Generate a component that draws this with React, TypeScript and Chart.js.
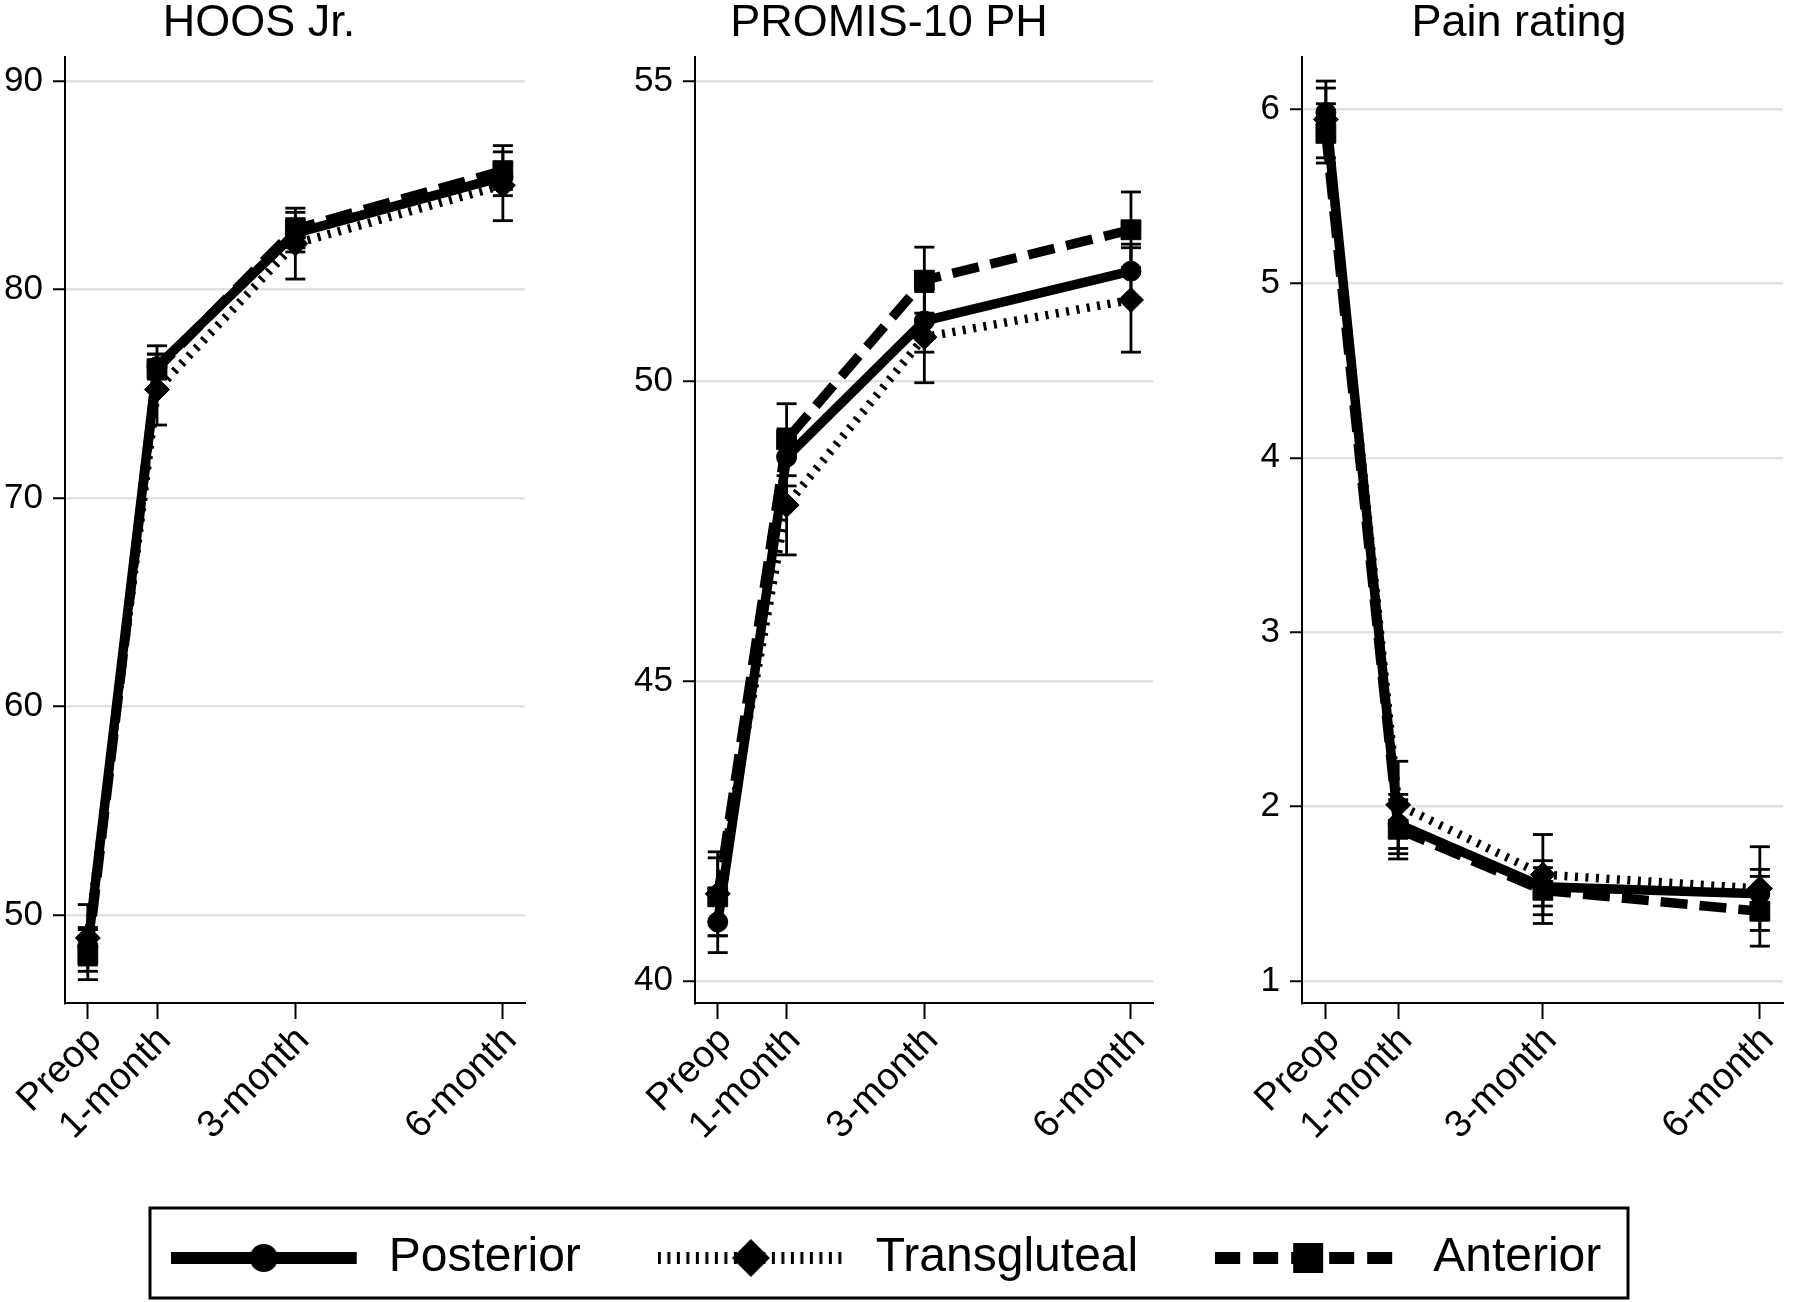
import React, { useEffect, useRef } from 'react';
import { Chart, registerables } from 'chart.js';

Chart.register(...registerables);

const FONT = 'Arial, "Liberation Sans", Helvetica, sans-serif';

// ---------- categories / labels ----------
const xTickValues = [0, 1, 3, 6];
const xTickLabels = ['Preop', '1-month', '3-month', '6-month'];
const seriesNames = ['Posterior', 'Transgluteal', 'Anterior'];
const panelTitles = ['HOOS Jr.', 'PROMIS-10 PH', 'Pain rating'];

// ---------- HOOS Jr. ----------
const hoosTicks = [50, 60, 70, 80, 90];
const hoosPosterior = [48.5, 76.3, 82.7, 85.4];
const hoosPosteriorLow = [47.6, 75.7, 82.0, 84.8];
const hoosPosteriorHigh = [49.4, 76.9, 83.4, 86.0];
const hoosTransgluteal = [48.9, 75.2, 82.2, 85.0];
const hoosTransglutealLow = [47.3, 73.5, 80.5, 83.3];
const hoosTransglutealHigh = [50.5, 76.9, 83.7, 86.6];
const hoosAnterior = [48.1, 76.2, 82.9, 85.7];
const hoosAnteriorLow = [46.9, 75.1, 81.8, 84.5];
const hoosAnteriorHigh = [49.3, 77.3, 83.9, 86.9];

// ---------- PROMIS-10 PH ----------
const promisTicks = [40, 45, 50, 55];
const promisPosterior = [40.98, 48.73, 51.0, 51.83];
const promisPosteriorLow = [40.47, 48.25, 50.48, 51.38];
const promisPosteriorHigh = [41.49, 49.2, 51.52, 52.28];
const promisTransgluteal = [41.45, 47.93, 50.73, 51.35];
const promisTransglutealLow = [40.75, 47.1, 49.97, 50.48];
const promisTransglutealHigh = [42.15, 48.76, 51.49, 52.22];
const promisAnterior = [41.4, 49.02, 51.68, 52.52];
const promisAnteriorLow = [40.75, 48.42, 51.13, 51.89];
const promisAnteriorHigh = [42.05, 49.62, 52.23, 53.15];

// ---------- Pain rating ----------
const painTicks = [1, 2, 3, 4, 5, 6];
const painPosterior = [5.98, 1.9, 1.54, 1.5];
const painPosteriorLow = [5.84, 1.73, 1.43, 1.36];
const painPosteriorHigh = [6.12, 2.07, 1.65, 1.64];
const painTransgluteal = [5.94, 2.01, 1.61, 1.53];
const painTransglutealLow = [5.72, 1.76, 1.38, 1.29];
const painTransglutealHigh = [6.16, 2.26, 1.84, 1.77];
const painAnterior = [5.86, 1.87, 1.52, 1.4];
const painAnteriorLow = [5.69, 1.7, 1.33, 1.2];
const painAnteriorHigh = [6.03, 2.04, 1.69, 1.6];

// ---------- axis ranges ----------
const xMin = -0.33;
const xMax = 6.32;
const yRanges = [
  [45.78, 91.15],
  [39.63, 55.4],
  [0.874, 6.298],
];

const panelData = [
  {
    ticks: hoosTicks,
    series: [
      [hoosPosterior, hoosPosteriorLow, hoosPosteriorHigh],
      [hoosTransgluteal, hoosTransglutealLow, hoosTransglutealHigh],
      [hoosAnterior, hoosAnteriorLow, hoosAnteriorHigh],
    ],
  },
  {
    ticks: promisTicks,
    series: [
      [promisPosterior, promisPosteriorLow, promisPosteriorHigh],
      [promisTransgluteal, promisTransglutealLow, promisTransglutealHigh],
      [promisAnterior, promisAnteriorLow, promisAnteriorHigh],
    ],
  },
  {
    ticks: painTicks,
    series: [
      [painPosterior, painPosteriorLow, painPosteriorHigh],
      [painTransgluteal, painTransglutealLow, painTransglutealHigh],
      [painAnterior, painAnteriorLow, painAnteriorHigh],
    ],
  },
];

// ---------- layout (page pixels) ----------
const PANEL_H = 1150;
const X_AXIS_H = 147;
const panelLayouts = [
  { left: -20, width: 560, axisWidth: 85 },
  { left: 612, width: 556, axisWidth: 83 },
  { left: 1242, width: 556, axisWidth: 60 },
];
const LEGEND = { left: 1, top: 1140, width: 1770, height: 162, padTop: 17 };
const FRAME = { left: 150, top: 1208, width: 1478, height: 90 };

// ---------- styles ----------
const seriesStyles = [
  { dash: [] as number[], width: 9.5, pointStyle: 'circle', radius: 10, legendMarker: 'circle' },
  { dash: [3, 7.5], width: 8.5, pointStyle: 'rectRot', radius: 12.5, legendMarker: 'diamond' },
  { dash: [27, 12], width: 9.5, pointStyle: 'rect', radius: 14, legendMarker: 'square' },
];
const legendDash = [[], [3, 6.5], [25, 13]];

function makeLegendSample(k: number): HTMLCanvasElement {
  const c = document.createElement('canvas');
  c.width = 194;
  c.height = 44;
  const ctx = c.getContext('2d')!;
  const cy = 22;
  ctx.strokeStyle = '#000';
  ctx.fillStyle = '#000';
  ctx.lineWidth = 12;
  ctx.setLineDash(legendDash[k]);
  ctx.beginPath();
  ctx.moveTo(0, cy);
  ctx.lineTo(186, cy);
  ctx.stroke();
  ctx.setLineDash([]);
  const cx = 93;
  const m = seriesStyles[k].legendMarker;
  ctx.beginPath();
  if (m === 'circle') {
    ctx.arc(cx, cy, 14, 0, Math.PI * 2);
  } else if (m === 'diamond') {
    ctx.moveTo(cx - 19, cy);
    ctx.lineTo(cx, cy - 19);
    ctx.lineTo(cx + 19, cy);
    ctx.lineTo(cx, cy + 19);
    ctx.closePath();
  } else {
    ctx.rect(cx - 15, cy - 15, 30, 30);
  }
  ctx.fill();
  return c;
}

const legendFramePlugin = {
  id: 'legendFrame',
  afterDraw(chart: any) {
    const ctx = chart.ctx;
    ctx.save();
    ctx.strokeStyle = '#000';
    ctx.lineWidth = 3;
    ctx.strokeRect(FRAME.left - LEGEND.left, FRAME.top - LEGEND.top, FRAME.width, FRAME.height);
    ctx.restore();
  },
};

function buildPanelConfig(p: number): any {
  const pd = panelData[p];
  const lay = panelLayouts[p];
  const datasets: any[] = [];
  pd.series.forEach(([vals, lo, hi], k) => {
    const st = seriesStyles[k];
    datasets.push({
      label: seriesNames[k],
      data: xTickValues.map((x, i) => ({ x, y: vals[i] })),
      showLine: true,
      borderColor: '#000',
      backgroundColor: '#000',
      borderWidth: st.width,
      borderDash: st.dash,
      borderJoinStyle: 'round',
      pointStyle: st.pointStyle,
      pointRadius: st.radius,
      pointBackgroundColor: '#000',
      pointBorderColor: '#000',
      pointBorderWidth: 1,
      order: 1,
    });
    datasets.push({
      label: seriesNames[k] + ' CI',
      data: xTickValues.flatMap((x, i) => [
        { x, y: lo[i] },
        { x, y: hi[i] },
        { x, y: null },
      ]),
      showLine: true,
      spanGaps: false,
      borderColor: '#000',
      borderWidth: 2.8,
      pointStyle: 'line',
      pointRadius: 10,
      pointBorderWidth: 2.8,
      pointBorderColor: '#000',
      pointBackgroundColor: '#000',
      order: 0,
    });
  });

  return {
    type: 'scatter',
    data: { datasets },
    options: {
      animation: false,
      responsive: false,
      events: [],
      layout: { padding: { left: 0, right: 2, top: 0, bottom: 0 } },
      plugins: {
        legend: { display: false },
        tooltip: { enabled: false },
        title: {
          display: true,
          text: panelTitles[p],
          color: '#000',
          font: { size: 45, family: FONT, weight: 'normal', lineHeight: 1 },
          padding: { top: 1, bottom: 11 },
        },
      },
      scales: {
        x: {
          type: 'linear',
          min: xMin,
          max: xMax,
          afterBuildTicks: (s: any) => {
            s.ticks = xTickValues.map((v) => ({ value: v }));
          },
          afterFit: (s: any) => {
            s.height = X_AXIS_H;
          },
          grid: { drawOnChartArea: false, drawTicks: true, tickColor: '#000', tickLength: 16, tickWidth: 2 },
          border: { color: '#000', width: 2 },
          ticks: {
            color: '#000',
            autoSkip: false,
            minRotation: 45,
            maxRotation: 45,
            padding: -1,
            labelOffset: 8,
            font: { size: 38, family: FONT },
            callback: (v: number) => xTickLabels[xTickValues.indexOf(v)],
          },
        },
        y: {
          type: 'linear',
          min: yRanges[p][0],
          max: yRanges[p][1],
          afterBuildTicks: (s: any) => {
            s.ticks = pd.ticks.map((v) => ({ value: v }));
          },
          afterFit: (s: any) => {
            s.width = lay.axisWidth;
          },
          grid: { color: '#e1e1e1', lineWidth: 2.5, drawTicks: true, tickColor: '#000', tickLength: 12, tickWidth: 2 },
          border: { color: '#000', width: 2 },
          ticks: { color: '#000', padding: 10, font: { size: 35, family: FONT } },
        },
      },
    },
  };
}

export default function App() {
  const r0 = useRef<HTMLCanvasElement>(null);
  const r1 = useRef<HTMLCanvasElement>(null);
  const r2 = useRef<HTMLCanvasElement>(null);
  const legendRef = useRef<HTMLCanvasElement>(null);
  const refs = [r0, r1, r2];

  useEffect(() => {
    Chart.defaults.font.family = FONT;
    Chart.defaults.color = '#000';
    const charts: Chart[] = [];
    refs.forEach((r, p) => {
      if (r.current) charts.push(new Chart(r.current, buildPanelConfig(p)));
    });
    if (legendRef.current) {
      charts.push(
        new Chart(legendRef.current, {
          type: 'line',
          data: {
            datasets: seriesNames.map((name, k) => ({
              label: name,
              data: [],
              borderColor: '#000',
              backgroundColor: '#000',
              pointStyle: makeLegendSample(k) as any,
            })),
          },
          options: {
            animation: false,
            responsive: false,
            events: [],
            layout: { padding: { top: LEGEND.padTop } },
            scales: { x: { display: false }, y: { display: false } },
            plugins: {
              tooltip: { enabled: false },
              title: { display: false },
              legend: {
                display: true,
                position: 'top',
                maxHeight: 140,
                labels: {
                  usePointStyle: true,
                  pointStyleWidth: 194,
                  padding: 77,
                  color: '#000',
                  font: { size: 48, family: FONT },
                },
              },
            },
          } as any,
          plugins: [legendFramePlugin],
        })
      );
    }
    return () => charts.forEach((c) => c.destroy());
  }, []);

  return (
    <div
      style={{
        position: 'absolute',
        left: 0,
        top: 0,
        width: 1800,
        height: 1302,
        overflow: 'hidden',
        background: '#fff',
      }}
    >
      {panelLayouts.map((lay, i) => (
        <canvas
          key={i}
          ref={refs[i]}
          width={lay.width}
          height={PANEL_H}
          style={{ position: 'absolute', left: lay.left, top: 0, width: lay.width, height: PANEL_H, display: 'block' }}
        />
      ))}
      <canvas
        ref={legendRef}
        width={LEGEND.width}
        height={LEGEND.height}
        style={{
          position: 'absolute',
          left: LEGEND.left,
          top: LEGEND.top,
          width: LEGEND.width,
          height: LEGEND.height,
          display: 'block',
        }}
      />
    </div>
  );
}
